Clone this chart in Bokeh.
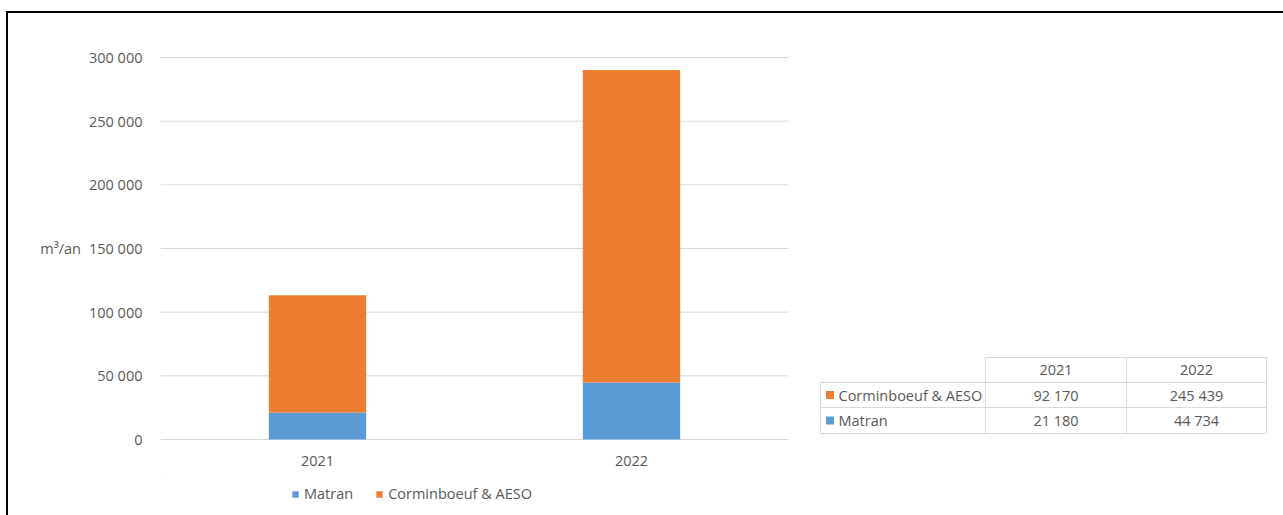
from bokeh.plotting import figure
from bokeh.models import (Range1d, FixedTicker, Legend, LegendItem, ColumnDataSource,
                          InlineStyleSheet)
from bokeh.layouts import column
from bokeh.embed import file_html
from bokeh.resources import INLINE
from bokeh.core.properties import value

# ---------------- data ----------------
years = ["2021", "2022"]
series_names = ["Matran", "Corminboeuf & AESO"]
matran = [21180, 44734]
corminboeuf = [92170, 245439]
y_ticks = [0, 50000, 100000, 150000, 200000, 250000, 300000]
y_label = "m³/an"


def fmt(v):
    return f"{v:,}".replace(",", " ")


y_tick_labels = [fmt(t) for t in y_ticks]

# ---------------- style ----------------
FONT = "Open Sans"
FS = "14.5px"
TXT = "#595959"
BLUE = "#5B9BD5"
ORANGE = "#ED7D31"
GRID = "#D9D9D9"
W = 1283

# category positions (one unit per category)
xpos = [i + 0.5 for i in range(len(years))]
src = ColumnDataSource(dict(x=xpos, Matran=matran, Corm=corminboeuf))

p = figure(width=W, height=475, x_range=Range1d(0, (W - 160) / 314), y_range=Range1d(-785, 300785),
           output_backend="svg", toolbar_location=None,
           min_border_left=160, min_border_right=0, min_border_top=56, min_border_bottom=35)
p.outline_line_color = None
p.background_fill_color = "white"
p.border_fill_color = "white"
p.xgrid.visible = False
p.ygrid.visible = False

# pixel-like ranges for the data table placed right of the chart
p.extra_x_ranges = {"px": Range1d(160, W)}
p.extra_y_ranges = {"px": Range1d(440, 56)}

# gridlines, only across the category area
p.segment(x0=[0] * len(y_ticks), x1=[len(years)] * len(y_ticks), y0=y_ticks, y1=y_ticks,
          line_color=GRID, line_width=1)

rs = p.vbar_stack(["Matran", "Corm"], x="x", width=0.31, color=[BLUE, ORANGE],
                  line_color=None, source=src)

p.yaxis.ticker = FixedTicker(ticks=y_ticks)
p.yaxis.major_label_overrides = {t: l for t, l in zip(y_ticks, y_tick_labels)}
p.yaxis.axis_label = y_label
p.yaxis.axis_label_orientation = "horizontal"
p.yaxis.axis_label_standoff = 5
p.yaxis.major_label_standoff = 12

p.xaxis.ticker = FixedTicker(ticks=xpos)
p.xaxis.major_label_overrides = {x: y for x, y in zip(xpos, years)}
p.xaxis.major_label_standoff = 9

for ax in (p.xaxis[0], p.yaxis[0]):
    ax.axis_line_color = None
    ax.major_tick_line_color = None
    ax.minor_tick_line_color = None
    ax.major_label_text_font = FONT
    ax.major_label_text_font_size = FS
    ax.major_label_text_color = TXT
    ax.axis_label_text_font = FONT
    ax.axis_label_text_font_size = FS
    ax.axis_label_text_color = TXT
    ax.axis_label_text_font_style = "normal"

# ---------------- data table ----------------
col_edges = [820, 985, 1126, 1266]
row_edges = [357, 382, 407, 433]
tbl = dict(x_range_name="px", y_range_name="px")

p.quad(left=col_edges[1:-1], right=col_edges[2:], top=[row_edges[0]] * 2, bottom=[row_edges[1]] * 2,
       fill_color=None, line_color=GRID, line_width=1, **tbl)
bl, br, bt, bb = [], [], [], []
for ri in range(2):
    for ci in range(3):
        bl.append(col_edges[ci]); br.append(col_edges[ci + 1])
        bt.append(row_edges[ri + 1]); bb.append(row_edges[ri + 2])
p.quad(left=bl, right=br, top=bt, bottom=bb, fill_color=None, line_color=GRID, line_width=1, **tbl)

col_centers = [(col_edges[i] + col_edges[i + 1]) / 2 for i in range(1, 3)]
row_centers = [(row_edges[i] + row_edges[i + 1]) / 2 for i in range(3)]

p.text(x=col_centers, y=[row_centers[0]] * 2, text=years,
       text_font=value(FONT), text_font_size=FS, text_color=TXT,
       text_align="center", text_baseline="middle", **tbl)

table_rows = [(series_names[1], ORANGE, corminboeuf), (series_names[0], BLUE, matran)]
for k, (name, colr, vals) in enumerate(table_rows):
    yc = row_centers[k + 1]
    p.scatter(x=[col_edges[0] + 9.5], y=[yc], marker="square", size=8,
              fill_color=colr, line_color=None, **tbl)
    p.text(x=[col_edges[0] + 18], y=[yc], text=[name],
           text_font=value(FONT), text_font_size=FS, text_color=TXT,
           text_align="left", text_baseline="middle", **tbl)
    p.text(x=col_centers, y=[yc] * 2, text=[fmt(v) for v in vals],
           text_font=value(FONT), text_font_size=FS, text_color=TXT,
           text_align="center", text_baseline="middle", **tbl)

# ---------------- legend strip below the chart ----------------
# the stacked bars are drawn here too (out of view) only to feed the legend swatches
L = figure(width=W, height=40, x_range=Range1d(10, 20), y_range=Range1d(-100, -50),
           output_backend="svg", toolbar_location=None, min_border=0,
           x_axis_location=None, y_axis_location=None)
L.grid.visible = False
L.outline_line_color = None
L.border_fill_color = "white"
L.background_fill_color = "white"
lrs = L.vbar_stack(["Matran", "Corm"], x="x", width=0.31, color=[BLUE, ORANGE],
                   line_color=None, source=src)
legend = Legend(items=[LegendItem(label=series_names[i], renderers=[lrs[i]]) for i in range(2)],
                orientation="horizontal", location=(131, 12),
                glyph_width=8, glyph_height=8, label_height=16, label_standoff=5,
                spacing=22, padding=0, margin=0,
                border_line_color=None, background_fill_alpha=0,
                label_text_font=FONT, label_text_font_size=FS, label_text_color=TXT)
L.add_layout(legend)

frame_css = InlineStyleSheet(css="""
:host::after {
  content: "";
  position: fixed;
  left: 6px;
  top: 11px;
  right: 0px;
  bottom: 0px;
  border-left: 2px solid black;
  border-top: 2px solid black;
  pointer-events: none;
  z-index: 100;
}
""")

layout = column(p, L, spacing=0, stylesheets=[frame_css])

open("out.html", "w").write(file_html(layout, INLINE))
